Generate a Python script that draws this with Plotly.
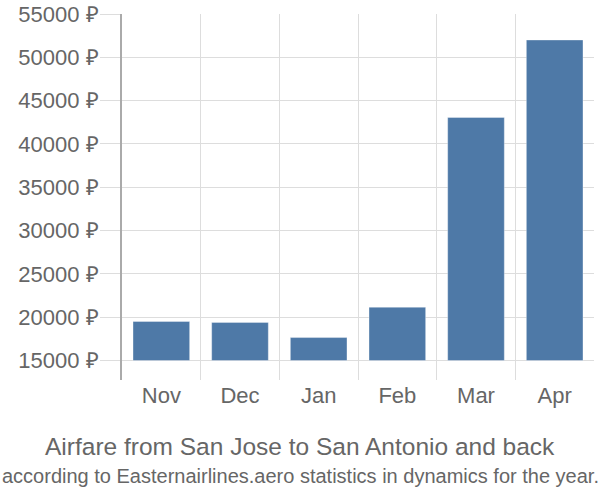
import plotly.graph_objects as go

months = ["Nov", "Dec", "Jan", "Feb", "Mar", "Apr"]
prices = [19500, 19400, 17650, 21150, 43050, 52000]
base_value = 15000
y_ticks = [15000, 20000, 25000, 30000, 35000, 40000, 45000, 50000, 55000]
y_tick_labels = [f"{v} ₽" for v in y_ticks]

title_text = "Airfare from San Jose to San Antonio and back"
subtitle_text = "according to Easternairlines.aero statistics in dynamics for the year."

fig = go.Figure()
fig.add_trace(go.Bar(
    x=months,
    y=[p - base_value for p in prices],
    base=base_value,
    width=0.72,
    marker=dict(color="#4e79a7", line=dict(color="rgba(255,255,255,0.35)", width=1)),
    hoverinfo="skip",
))

font_family = "Liberation Sans, Arial, sans-serif"

fig.update_layout(
    width=600, height=500,
    margin=dict(l=122, r=6, t=14, b=120),
    plot_bgcolor="white", paper_bgcolor="white",
    showlegend=False,
    font=dict(family=font_family, color="#666666", size=22),
    xaxis=dict(
        type="category",
        tickson="boundaries",
        showgrid=True, gridcolor="#dddddd", gridwidth=1,
        ticks="", showline=False, zeroline=False,
        automargin=False,
        tickfont=dict(size=22, color="#666666"),
    ),
    yaxis=dict(
        range=[12750, 55000],
        tickvals=y_ticks,
        ticktext=y_tick_labels,
        showgrid=True, gridcolor="#dddddd", gridwidth=1,
        ticks="outside", ticklen=20, tickcolor="#dddddd", tickwidth=1,
        ticklabelstandoff=-3,
        showline=True, linecolor="#aaaaaa", linewidth=2,
        zeroline=False,
        automargin=False,
        tickfont=dict(size=22, color="#666666"),
    ),
)
plot_h = 500 - 14 - 120
plot_w = 600 - 122 - 6
for text, ypix, size in [(title_text, 446, 24.5), (subtitle_text, 476, 20)]:
    fig.add_annotation(
        text=text, showarrow=False, xref="paper", yref="paper",
        x=(300 - 122) / plot_w, y=(500 - 120 - ypix) / plot_h,
        xanchor="center", yanchor="middle",
        font=dict(size=size, color="#666666"),
    )

fig.write_html("out.html")
